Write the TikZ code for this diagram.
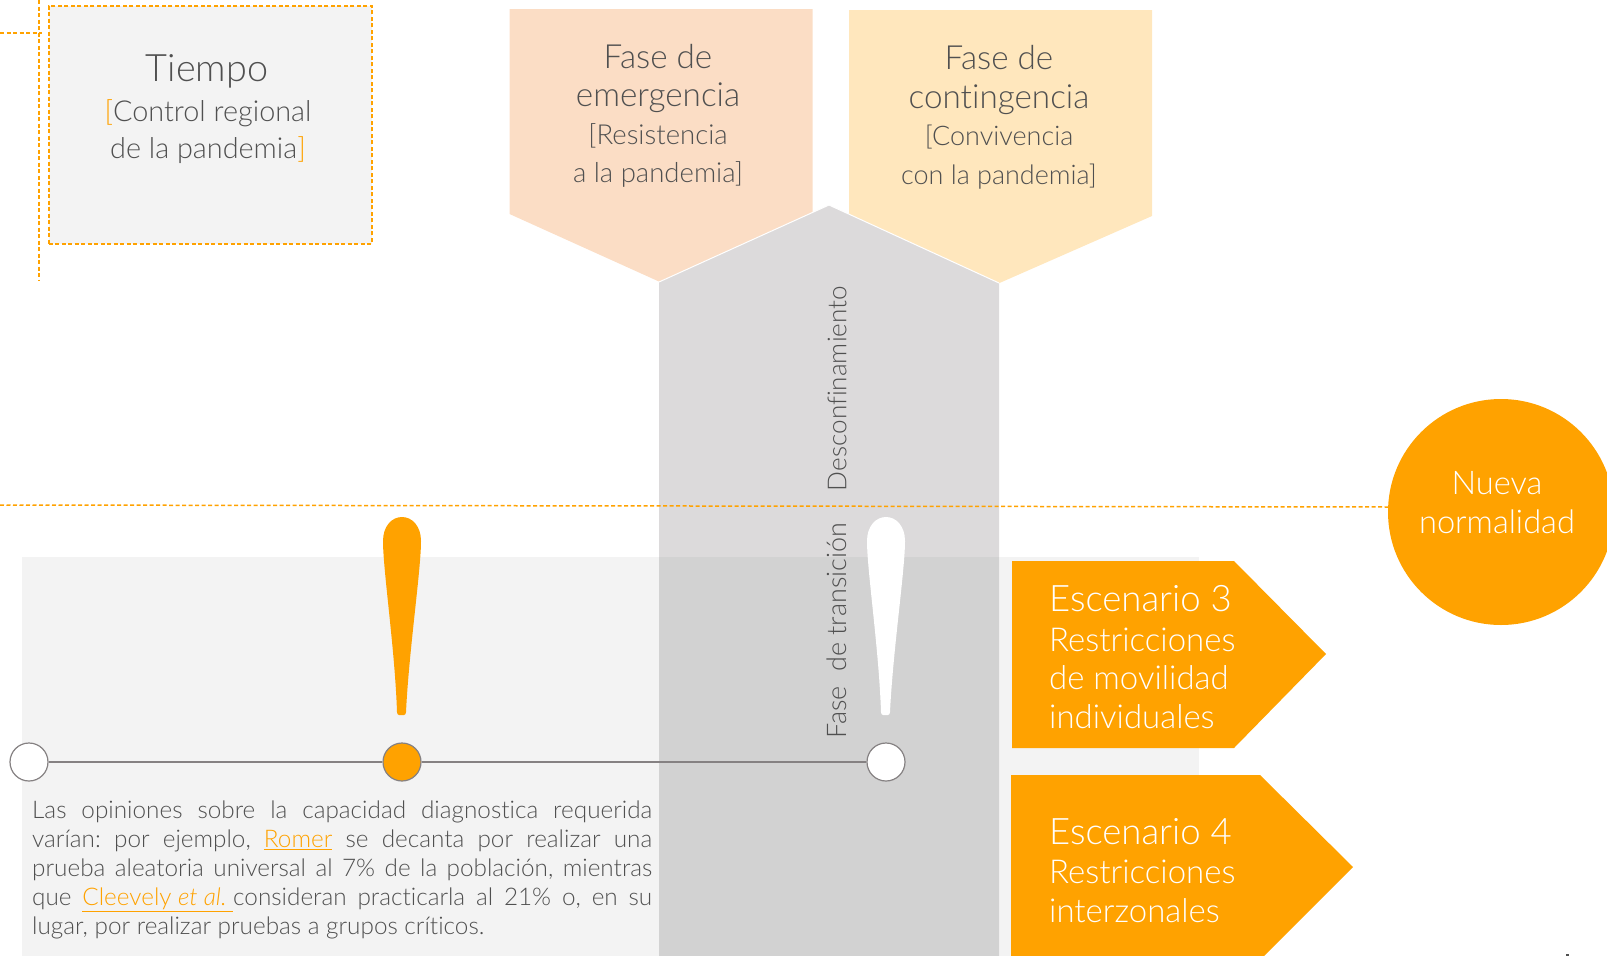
\documentclass[tikz,border=0pt]{standalone}
\usepackage{fontspec}
\setmainfont{Lato Light}[Scale=1.08,ItalicFont={Lato Light Italic},Ligatures=NoCommon]
\newfontfamily\lightf{Lato Light}
\definecolor{org}{HTML}{FFA200}
\definecolor{txt}{HTML}{505050}
\definecolor{panel}{HTML}{F3F3F3}
\definecolor{boxa}{HTML}{FBDDC5}
\definecolor{boxb}{HTML}{FFE7BD}
\definecolor{band}{HTML}{DCDADB}
\definecolor{bandb}{HTML}{D2D2D2}
\definecolor{axis}{HTML}{858182}
\tikzset{
 guide/.style={draw=org,dashed,dash pattern=on 4pt off 2.5pt,line width=1.5pt},
 lab/.style={inner sep=0pt,align=center,text=txt},
 dot/.style={circle,draw=axis,line width=1.2pt,minimum size=38pt,inner sep=0pt},
 wlab/.style={inner sep=0pt,align=left,text=white,anchor=north west},
 vlab/.style={inner sep=0pt,text=txt,rotate=90},
}
\newcommand{\fsz}[2]{\fontsize{#1}{#2}\selectfont}
\newcommand{\ob}[1]{\textcolor{org}{#1}}
\newcommand{\lnk}[1]{{\color{org}\underline{#1}}}
\begin{document}
\begin{tikzpicture}[x=1pt,y=-1pt]
\useasboundingbox (0,0) rectangle (1607,956);
\begin{scope}
\clip (0,0) rectangle (1607,956);
% panel
\fill[panel] (22,557) rectangle (1199,956);
% guides
\coordinate (ga) at (0,33); \coordinate (gb) at (42,33);
\coordinate (gc) at (39,0); \coordinate (gd) at (39,281);
\draw[guide] (ga) -- (gb);
\draw[guide,line width=1.1pt] (gc) -- (gd);
% time box
\node[guide,fill=panel,minimum width=323pt,minimum height=238pt,inner sep=0pt,anchor=north west] (tiempo) at (48,5) {};
% pentagons
\fill[boxa] (509.5,9) -- (812.6,9) -- (812.6,214) -- (660,282) -- (509.5,214) -- cycle;
\fill[boxb] (849,10) -- (1152,10) -- (1152,216) -- (999.5,283) -- (849,216) -- cycle;
% band
\fill[band] (659,282) -- (829,205) -- (999,283) -- (999,960) -- (659,960) -- cycle;
\draw[white,line width=1pt] (659,282) -- (829,205) -- (999,283);
\fill[bandb] (659,557) rectangle (999,956);
% main dashed line
\coordinate (la) at (0,505); \coordinate (lb) at (1390,507);
\draw[guide] (la) -- (lb);
% circle
\node[circle,fill=org,minimum size=226pt,inner sep=0pt] (nueva) at (1501,512) {};
% scenario arrows
\fill[org] (1012,561) -- (1234,561) -- (1326,654) -- (1234,748) -- (1012,748) -- cycle;
\fill[org] (1011,775) -- (1260,775) -- (1353,867) -- (1260,960) -- (1011,960) -- cycle;
% axis
\node[dot,fill=white] (d1) at (29,762) {};
\node[dot,fill=org] (d2) at (402,762) {};
\node[dot,fill=white] (d3) at (886,762) {};
\draw[axis,line width=1.3pt] (d1) -- (d2);
\draw[axis,line width=1.3pt] (d2) -- (d3);
% exclamation marks
\foreach \cx/\col in {402/org,886/white}{
 \fill[\col] (\cx-19,541) .. controls (\cx-19,526) and (\cx-10,517) .. (\cx,517)
   .. controls (\cx+10,517) and (\cx+19,526) .. (\cx+19,541)
   .. controls (\cx+19,570) and (\cx+7,650) .. (\cx+4,712)
   .. controls (\cx+4,714) and (\cx+3,715) .. (\cx+2,715)
   -- (\cx-3,715) .. controls (\cx-4,715) and (\cx-5,714) .. (\cx-5,712)
   .. controls (\cx-7,650) and (\cx-19,570) .. (\cx-19,541) -- cycle;
}
% stray mark at the lower edge
\fill[txt] (1566,954) rectangle (1569,956);
% texts
\node[lab,font=\fsz{35}{37}] (t1) at (207,71) {Tiempo};
\node[lab,font=\fsz{26.7}{37.5}] (t2) at (208,131.5) {\ob{[}Control regional\\de la pandemia\ob{]}};
\node[lab,font=\fsz{30.8}{38}] (e1) at (658,78) {Fase de\\emergencia};
\node[lab,font=\fsz{25.5}{38}] (e2) at (658,155.5) {[Resistencia\\a la pandemia]};
\node[lab,font=\fsz{30.8}{39}] (c1) at (999,79.5) {Fase de\\contingencia};
\node[lab,font=\fsz{25}{39}] (c2) at (999,157) {[Convivencia\\con la pandemia]};
\node[vlab,font=\fsz{24.2}{26}] (v1) at (837,388.5) {Desconfinamiento};
\node[vlab,font=\fsz{25}{26}] (v2) at (837,630.5) {Fase\ \ de transición};
\node[wlab,anchor=west,font=\lightf\fsz{36.5}{37}] (s3a) at (1049,599) {Escenario 3};
\node[wlab,font=\fsz{30.5}{38.4}] (s3b) at (1049,627.5) {Restricciones\\de movilidad\\individuales};
\node[wlab,anchor=west,font=\lightf\fsz{36.5}{37}] (s4a) at (1049,832) {Escenario 4};
\node[wlab,font=\fsz{30.5}{39}] (s4b) at (1049,860) {Restricciones\\interzonales};
\node[inner sep=0pt,align=center,text=white,font=\fsz{30.2}{39}] (n) at (1497,503) {Nueva\\normalidad};
\node[inner sep=0pt,text=txt,anchor=north west,text width=620pt,align=justify,font=\fsz{22.5}{28.8}] (p) at (32,801) {\sloppy\frenchspacing Las opiniones sobre la capacidad diagnostica requerida\linebreak varían: por ejemplo, \lnk{Romer} se decanta por realizar una\linebreak prueba aleatoria universal al 7\% de la población, mientras\linebreak que \lnk{Cleevely \textit{et al.}\ }consideran practicarla al 21\% o, en su\linebreak lugar, por realizar pruebas a grupos críticos.};
\end{scope}
\end{tikzpicture}
\end{document}
